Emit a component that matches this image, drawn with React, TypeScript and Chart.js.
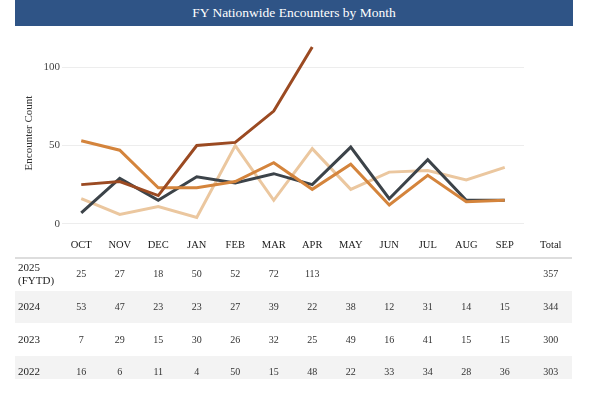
import React, { useEffect, useRef } from "react";
import { Chart, registerables } from "chart.js";

Chart.register(...registerables);

const months = ["OCT", "NOV", "DEC", "JAN", "FEB", "MAR", "APR", "MAY", "JUN", "JUL", "AUG", "SEP"];
const totalHeader = "Total";
const seriesNames = ["2025 (FYTD)", "2024", "2023", "2022"];
const rowLabelLines = [["2025", "(FYTD)"], ["2024"], ["2023"], ["2022"]];
const fy2025 = [25, 27, 18, 50, 52, 72, 113, null, null, null, null, null];
const fy2024 = [53, 47, 23, 23, 27, 39, 22, 38, 12, 31, 14, 15];
const fy2023 = [7, 29, 15, 30, 26, 32, 25, 49, 16, 41, 15, 15];
const fy2022 = [16, 6, 11, 4, 50, 15, 48, 22, 33, 34, 28, 36];
const totals = [357, 344, 300, 303];
const yTickValues = [0, 50, 100];
const titleText = "FY Nationwide Encounters by Month";
const yAxisTitle = "Encounter Count";

const seriesColors = ["#9b4a22", "#d4843c", "#3c4349", "#ebc79f"];
const FONT = "'Liberation Serif', 'Times New Roman', serif";

const tablePlugin = {
  id: "tablePlugin",
  afterDraw(chart: any) {
    const ctx = chart.ctx;
    const xs = chart.scales.x;
    const colX = months.map((_, i) => xs.getPixelForValue(i));
    const totalX = colX[colX.length - 1] + 46;
    const left = 15;
    const right = 572;
    const rows = [
      { top: 258, h: 33, cy: 274 },
      { top: 291, h: 32, cy: 307 },
      { top: 323, h: 33, cy: 340 },
      { top: 356, h: 23, cy: 372 },
    ];
    ctx.save();
    rows.forEach((r, i) => {
      if (i % 2 === 1) {
        ctx.fillStyle = "#f3f3f3";
        ctx.fillRect(left, r.top, right - left, r.h);
      }
    });
    ctx.strokeStyle = "#d2d2d2";
    ctx.lineWidth = 1.5;
    ctx.beginPath();
    ctx.moveTo(left, 258);
    ctx.lineTo(right, 258);
    ctx.stroke();

    // Total header
    ctx.fillStyle = "#1a1a1a";
    ctx.font = `10.5px ${FONT}`;
    ctx.textAlign = "center";
    ctx.textBaseline = "middle";
    ctx.fillText(totalHeader, totalX, 245.5);

    const seriesData = [fy2025, fy2024, fy2023, fy2022];
    rows.forEach((r, i) => {
      ctx.textAlign = "left";
      ctx.fillStyle = "#222";
      ctx.font = `11px ${FONT}`;
      const lines = rowLabelLines[i];
      if (lines.length === 2) {
        ctx.fillText(lines[0], 18, r.cy - 6);
        ctx.fillText(lines[1], 18, r.cy + 7);
      } else {
        ctx.fillText(lines[0], 18, r.cy);
      }
      ctx.textAlign = "center";
      ctx.fillStyle = "#333";
      ctx.font = `10px ${FONT}`;
      seriesData[i].forEach((v, j) => {
        if (v !== null && v !== undefined) ctx.fillText(String(v), colX[j], r.cy);
      });
      ctx.fillText(String(totals[i]), totalX, r.cy);
    });
    ctx.restore();
  },
};

export default function App() {
  const canvasRef = useRef<HTMLCanvasElement | null>(null);

  useEffect(() => {
    document.body.style.margin = "0";
    const canvas = canvasRef.current;
    if (!canvas) return;
    const datasets = [fy2025, fy2024, fy2023, fy2022].map((d, i) => ({
      label: seriesNames[i],
      data: d,
      borderColor: seriesColors[i],
      backgroundColor: seriesColors[i],
      borderWidth: 3,
      pointRadius: 0,
      tension: 0,
      spanGaps: false,
    }));
    const chart = new Chart(canvas, {
      type: "line",
      data: { labels: months, datasets },
      options: {
        animation: false,
        responsive: false,
        maintainAspectRatio: false,
        layout: { padding: { top: 36, left: 0, right: 66, bottom: 0 } },
        plugins: {
          legend: { display: false },
          title: { display: false },
          tooltip: { enabled: false },
        },
        font: { family: FONT },
        scales: {
          x: {
            offset: true,
            grid: { display: false, drawTicks: false },
            border: { display: false },
            ticks: {
              color: "#1a1a1a",
              font: { family: FONT, size: 10.5 },
              padding: 9,
              maxRotation: 0,
              autoSkip: false,
            },
            afterFit: (s: any) => {
              s.height = 163;
            },
          },
          y: {
            min: -4,
            max: 120,
            afterBuildTicks: (s: any) => {
              s.ticks = yTickValues.map((v) => ({ value: v }));
            },
            grid: { color: "#ededed", lineWidth: 1, drawTicks: false },
            border: { display: false },
            ticks: {
              color: "#444",
              font: { family: FONT, size: 11 },
              padding: 2,
            },
            title: {
              display: true,
              text: yAxisTitle,
              color: "#333",
              font: { family: FONT, size: 11 },
              padding: { top: 23, bottom: 0 },
            },
            afterFit: (s: any) => {
              s.width = 62;
            },
          },
        },
      } as any,
      plugins: [tablePlugin],
    });
    return () => chart.destroy();
  }, []);

  return (
    <div style={{ position: "relative", width: 590, height: 393, background: "#fff", overflow: "hidden" }}>
      <canvas ref={canvasRef} width={590} height={393} style={{ position: "absolute", left: 0, top: 0, width: 590, height: 393 }} />
      <div
        style={{
          position: "absolute",
          left: 15,
          top: 0,
          width: 558,
          height: 26,
          background: "#2f5486",
          color: "#fff",
          fontFamily: FONT,
          fontSize: 13.5,
          lineHeight: "26px",
          textAlign: "center",
        }}
      >
        {titleText}
      </div>
    </div>
  );
}
